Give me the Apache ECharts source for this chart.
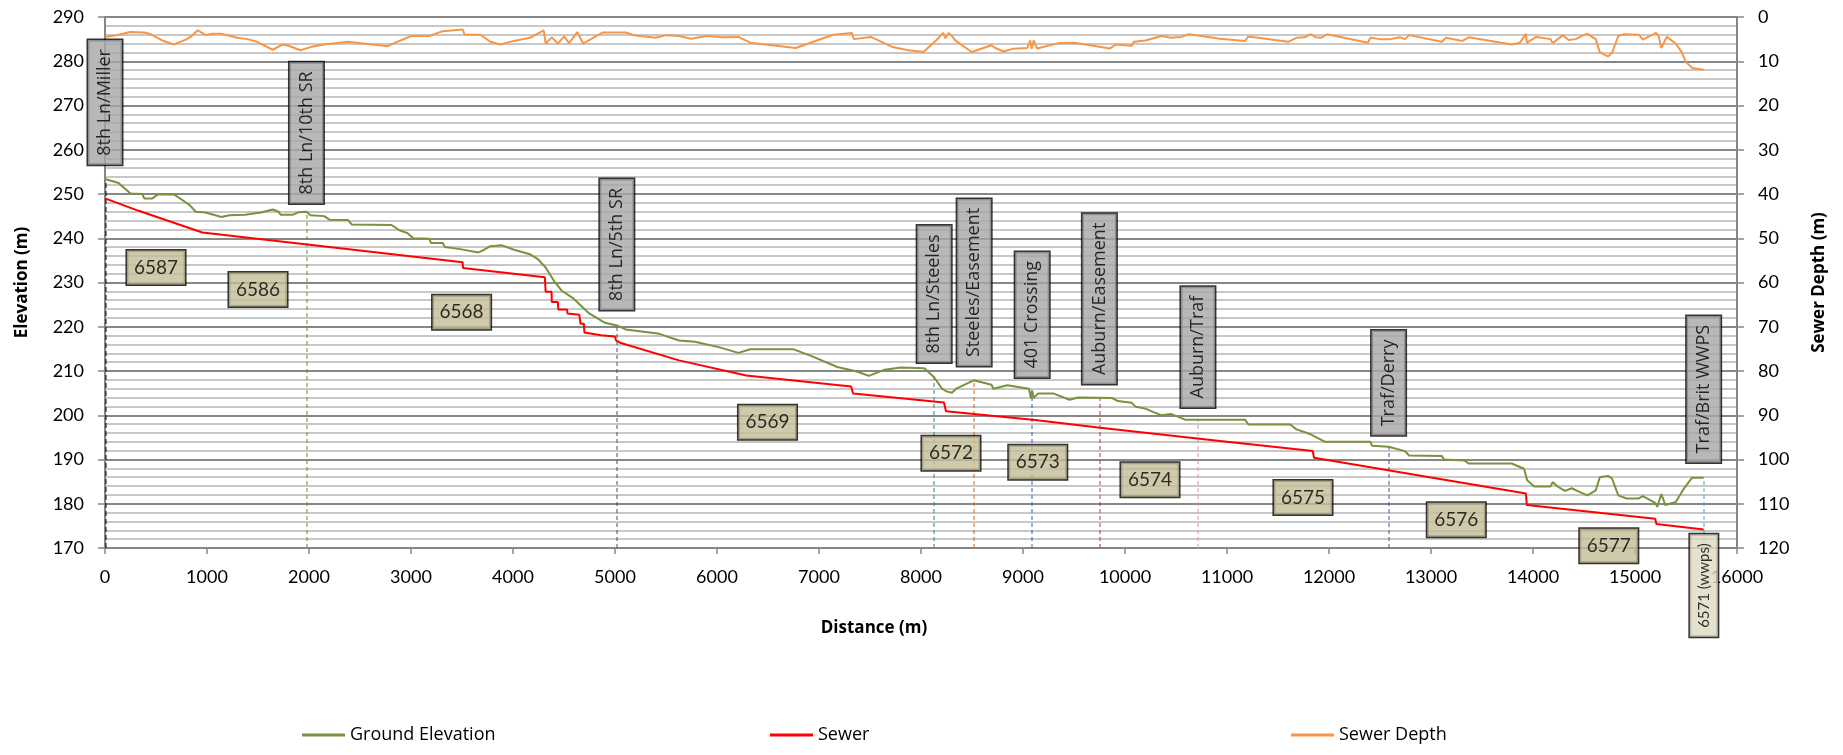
<!DOCTYPE html>
<html>
<head>
<meta charset="utf-8">
<script src="https://cdn.jsdelivr.net/npm/echarts@6/dist/echarts.min.js"></script>
<style>
html, body { margin: 0; padding: 0; background: #ffffff; }
#chart { width: 1843px; height: 755px; }
</style>
</head>
<body>
<div id="chart"></div>
<script>
// Ground profile along the trunk sewer route (distance in m, elevation in m)
const groundDist = [0, 10, 133, 250, 366, 385, 463, 521, 676, 754, 830, 890, 986, 1064, 1141, 1219, 1374, 1529, 1645, 1700, 1723, 1839, 1900, 1975, 2014, 2149, 2200, 2382, 2420, 2809, 2886, 2964, 3022, 3177, 3197, 3313, 3332, 3468, 3662, 3701, 3778, 3894, 4010, 4165, 4243, 4320, 4398, 4475, 4592, 4747, 4902, 5018, 5105, 5240, 5435, 5628, 5783, 6016, 6210, 6326, 6481, 6753, 6946, 7179, 7373, 7489, 7644, 7799, 8032, 8129, 8206, 8250, 8303, 8345, 8517, 8691, 8710, 8846, 9059, 9078, 9090, 9105, 9146, 9301, 9456, 9543, 9873, 9931, 10066, 10106, 10200, 10280, 10357, 10450, 10590, 10931, 11177, 11210, 11620, 11681, 11821, 11962, 12404, 12423, 12584, 12745, 12785, 13107, 13127, 13328, 13369, 13791, 13912, 13943, 14012, 14172, 14193, 14240, 14314, 14380, 14454, 14534, 14615, 14655, 14735, 14775, 14836, 14917, 15037, 15077, 15198, 15218, 15258, 15298, 15399, 15479, 15560, 15673];
const groundElev = [253.4, 253.3, 252.5, 250.1, 250.0, 249.0, 249.0, 249.9, 249.9, 248.7, 247.5, 246.0, 245.8, 245.3, 244.8, 245.2, 245.3, 245.8, 246.5, 246.0, 245.3, 245.3, 245.9, 246.0, 245.2, 245.0, 244.2, 244.1, 243.1, 243.0, 241.8, 241.2, 240.0, 239.9, 238.9, 238.9, 238.0, 237.6, 236.8, 237.2, 238.2, 238.4, 237.4, 236.4, 235.3, 233.4, 230.5, 228.2, 226.4, 223.0, 220.9, 220.3, 219.4, 219.0, 218.4, 216.9, 216.6, 215.4, 214.1, 214.9, 214.9, 214.9, 213.2, 210.9, 209.9, 208.9, 210.3, 210.8, 210.6, 208.6, 206.0, 205.4, 205.1, 206.0, 207.9, 206.9, 206.0, 206.8, 206.0, 203.8, 205.5, 203.9, 204.9, 204.9, 203.5, 204.0, 203.9, 203.2, 202.8, 201.9, 201.5, 200.7, 200.0, 200.3, 199.0, 199.0, 199.0, 197.9, 197.9, 196.8, 195.7, 194.0, 194.0, 193.1, 192.9, 191.9, 190.9, 190.8, 190.0, 189.8, 189.1, 189.1, 187.9, 185.3, 183.9, 183.9, 184.9, 183.9, 182.9, 183.5, 182.7, 181.9, 183.0, 186.0, 186.3, 185.7, 181.9, 181.2, 181.2, 181.7, 180.2, 179.3, 182.2, 179.7, 180.4, 183.4, 185.9, 185.9];

// Sewer invert profile (distance in m, elevation in m)
const sewerDist = [0, 10, 330, 955, 960, 3506, 3510, 4312, 4320, 4378, 4380, 4440, 4444, 4530, 4534, 4650, 4662, 4695, 4700, 4863, 4999, 5010, 5049, 5628, 6287, 7315, 7334, 8225, 8245, 9118, 9757, 10931, 11841, 11853, 13931, 13939, 15198, 15210, 15673];
const sewerElev = [249.0, 248.7, 246.2, 241.3, 240.9, 234.6, 233.3, 231.2, 227.9, 227.9, 225.6, 225.6, 223.9, 223.9, 223.0, 222.7, 220.7, 220.7, 218.7, 218.1, 217.8, 216.9, 216.4, 212.4, 209.0, 206.5, 204.9, 202.9, 200.9, 198.9, 197.2, 194.2, 191.9, 190.4, 182.3, 179.7, 176.6, 175.4, 174.2];

// Depth of the sewer below ground (distance in m, depth in m)
const depthDist = [0, 100, 250, 387, 450, 560, 676, 792, 850, 909, 986, 1050, 1141, 1296, 1400, 1490, 1645, 1742, 1800, 1917, 2014, 2149, 2382, 2770, 2847, 3002, 3177, 3313, 3506, 3526, 3681, 3778, 3875, 4010, 4165, 4301, 4320, 4380, 4440, 4500, 4550, 4630, 4688, 4780, 4882, 5105, 5200, 5396, 5500, 5627, 5745, 5900, 6050, 6209, 6326, 6771, 7140, 7322, 7342, 7509, 7722, 7876, 8024, 8148, 8218, 8240, 8270, 8295, 8342, 8497, 8691, 8720, 8807, 8900, 9041, 9071, 9085, 9105, 9138, 9350, 9505, 9853, 9912, 10067, 10086, 10200, 10358, 10450, 10550, 10629, 10931, 11177, 11210, 11600, 11681, 11760, 11821, 11870, 11922, 11982, 12383, 12404, 12500, 12600, 12700, 12745, 12785, 13107, 13147, 13308, 13370, 13791, 13872, 13931, 13940, 14032, 14172, 14193, 14293, 14350, 14420, 14494, 14534, 14615, 14655, 14735, 14775, 14836, 14896, 15037, 15077, 15206, 15230, 15258, 15311, 15399, 15459, 15499, 15560, 15673];
const depthVal = [4.5, 4.2, 3.4, 3.5, 3.9, 5.3, 6.2, 5.1, 4.3, 3.0, 4.1, 3.8, 3.8, 4.7, 5.0, 5.6, 7.4, 6.2, 6.5, 7.5, 6.8, 6.2, 5.6, 6.6, 5.8, 4.3, 4.3, 3.2, 2.8, 4.0, 4.0, 5.6, 6.2, 5.4, 4.7, 3.0, 6.0, 4.6, 6.0, 4.4, 5.9, 3.4, 6.0, 4.8, 3.5, 3.5, 4.2, 4.7, 4.1, 4.3, 4.9, 4.3, 4.6, 4.5, 5.8, 7.0, 4.0, 3.6, 5.0, 4.5, 6.8, 7.5, 7.9, 5.3, 3.6, 4.8, 3.6, 4.1, 5.4, 7.9, 6.4, 6.9, 7.8, 7.2, 7.0, 5.3, 7.2, 5.3, 7.1, 5.9, 5.8, 7.1, 6.2, 6.5, 5.6, 5.3, 4.3, 4.7, 4.5, 3.9, 4.9, 5.4, 4.4, 5.6, 4.7, 4.6, 3.9, 4.6, 4.7, 3.9, 5.8, 4.7, 5.0, 5.0, 4.6, 5.0, 4.1, 5.6, 4.7, 5.4, 4.6, 6.2, 5.8, 3.8, 5.8, 4.5, 5.0, 5.9, 4.1, 5.2, 5.0, 4.1, 3.8, 5.0, 8.0, 8.9, 8.1, 4.3, 3.9, 4.0, 5.1, 3.6, 4.2, 7.0, 4.5, 6.0, 8.0, 10.2, 11.5, 11.9];

// Street / structure locations along the route
const siteNames = ['8th Ln/Miller', '8th Ln/10th SR', '8th Ln/5th SR', '8th Ln/Steeles', 'Steeles/Easement', '401 Crossing', 'Auburn/Easement', 'Auburn/Traf', 'Traf/Derry', 'Traf/Brit WWPS'];
const siteDist = [0, 1975, 5018, 8129, 8521, 9090, 9749, 10715, 12584, 15673];
const siteGround = [253.3, 246.0, 220.3, 208.8, 207.9, 206.0, 204.0, 199.0, 192.9, 185.9];
const siteTagElev = [270.7, 263.8, 238.6, 227.4, 230.0, 222.7, 226.3, 215.4, 207.3, 205.9];

// Sewer section identifiers
const sectionIds = ['6587', '6586', '6568', '6569', '6572', '6573', '6574', '6575', '6576', '6577'];
const sectionDist = [500, 1500, 3496, 6495, 8294, 9145, 10245, 11745, 13248, 14743];
const sectionElev = [233.4, 228.4, 223.3, 198.4, 191.4, 189.4, 185.4, 181.4, 176.4, 170.5];
const pumpStation = { name: '6571 (wwps)', dist: 15675, elev: 161.5 };

// Axis ranges
const elevMin = 170, elevMax = 290;
const depthMin = 0, depthMax = 120;
const distMin = 0, distMax = 16000;

const pairs = (xs, ys) => xs.map((x, i) => [x, ys[i]]);

const siteColors = ['#000000', '#6E8B30', '#5A4378', '#2A7E96', '#D9650B', '#2864B0', '#B03A36', '#E39491', '#63498F', '#3FA4C2'];
const GRID_MAJOR = '#878787';
const GRID_MINOR = '#C8C8C8';
const AXIS_GREY = '#868686';
const tickFont = { fontFamily: 'Lato', fontSize: 18, color: '#000000' };
const titleFont = { fontFamily: 'Open Sans', fontSize: 17, fontWeight: 'bold', color: '#000000' };

const chart = echarts.init(document.getElementById('chart'), null, { renderer: 'canvas' });

const siteLines = siteDist.map((d, i) => ({
  coords: [[d, elevMin], [d, siteGround[i]]],
  lineStyle: { color: siteColors[i], width: i === 0 ? 3 : 2, type: i === 0 ? [5, 3] : [4, 3] }
}));

const legendCommon = {
  icon: 'rect', itemWidth: 43, itemHeight: 3, selectedMode: false, padding: 0,
  textStyle: { fontFamily: 'Open Sans', fontSize: 18, color: '#000000' }
};

chart.setOption({
  animation: false,
  backgroundColor: '#ffffff',
  grid: { left: 105, right: 106, top: 17, bottom: 207 },
  legend: [
    Object.assign({ data: ['Ground Elevation'], left: 302, top: 726 }, legendCommon),
    Object.assign({ data: ['Sewer'], left: 770, top: 726 }, legendCommon),
    Object.assign({ data: ['Sewer Depth'], left: 1291, top: 726 }, legendCommon)
  ],
  xAxis: {
    type: 'value', min: distMin, max: distMax, interval: 1000,
    name: 'Distance (m)', nameLocation: 'middle', nameGap: 72,
    nameTextStyle: Object.assign({ padding: [0, 94, 0, 0] }, titleFont),
    axisLine: { show: true, onZero: false, lineStyle: { color: AXIS_GREY, width: 2 } },
    axisTick: { show: true, length: 6, lineStyle: { color: AXIS_GREY, width: 1.5 } },
    axisLabel: Object.assign({ margin: 20, formatter: v => String(v) }, tickFont),
    splitLine: { show: false }
  },
  yAxis: [
    {
      type: 'value', min: elevMin, max: elevMax, interval: 10, position: 'left',
      name: 'Elevation (m)', nameLocation: 'middle', nameGap: 74, nameRotate: 90,
      nameTextStyle: titleFont,
      axisLine: { show: true, lineStyle: { color: AXIS_GREY, width: 2 } },
      axisTick: { show: true, length: 7, lineStyle: { color: AXIS_GREY, width: 1.5 } },
      axisLabel: Object.assign({ margin: 21 }, tickFont),
      splitLine: { show: true, lineStyle: { color: GRID_MAJOR, width: 2 } },
      minorTick: { show: false, splitNumber: 5 },
      minorSplitLine: { show: true, lineStyle: { color: GRID_MINOR, width: 2 } }
    },
    {
      type: 'value', min: depthMin, max: depthMax, interval: 10, position: 'right', inverse: true,
      name: 'Sewer Depth (m)', nameLocation: 'middle', nameGap: 74, nameRotate: 90,
      nameTextStyle: titleFont,
      axisLine: { show: true, lineStyle: { color: AXIS_GREY, width: 2 } },
      axisTick: { show: true, length: 7, lineStyle: { color: AXIS_GREY, width: 1.5 } },
      axisLabel: Object.assign({ margin: 21 }, tickFont),
      splitLine: { show: false }
    }
  ],
  series: [
    {
      name: 'Ground Elevation', type: 'line', yAxisIndex: 0, data: pairs(groundDist, groundElev),
      showSymbol: false, color: '#77933C', lineStyle: { color: '#77933C', width: 2 }, z: 3
    },
    {
      name: 'Sewer', type: 'line', yAxisIndex: 0, data: pairs(sewerDist, sewerElev),
      showSymbol: false, color: '#FF0000', lineStyle: { color: '#FF0000', width: 2 }, z: 3
    },
    {
      name: 'Sewer Depth', type: 'line', yAxisIndex: 1, data: pairs(depthDist, depthVal),
      showSymbol: false, color: '#F79646', lineStyle: { color: '#F79646', width: 2 }, z: 3
    },
    {
      type: 'lines', coordinateSystem: 'cartesian2d', xAxisIndex: 0, yAxisIndex: 0,
      data: siteLines, z: 2, silent: true
    },
    {
      type: 'scatter', yAxisIndex: 0, symbolSize: 0, z: 10, silent: true,
      data: siteNames.map((n, i) => ({ name: n, value: [siteDist[i], siteTagElev[i]] })),
      label: {
        show: true, position: 'inside', rotate: 90, formatter: p => p.name,
        fontFamily: 'Open Sans', fontSize: 18, lineHeight: 22, color: '#000000',
        backgroundColor: '#A6A6A6', borderColor: '#000000', borderWidth: 1.5, padding: [6, 9]
      }
    },
    {
      type: 'scatter', yAxisIndex: 0, symbolSize: 0, z: 10, silent: true,
      data: sectionIds.map((n, i) => ({ name: n, value: [sectionDist[i], sectionElev[i]] })),
      label: {
        show: true, position: 'inside', formatter: p => p.name,
        fontFamily: 'Lato', fontSize: 19, lineHeight: 22, color: '#000000',
        backgroundColor: '#C4BD97', borderColor: '#000000', borderWidth: 1.5, padding: [6, 7]
      }
    },
    {
      type: 'scatter', yAxisIndex: 0, symbolSize: 0, z: 10, silent: true, clip: false,
      data: [{ name: pumpStation.name, value: [pumpStation.dist, pumpStation.elev] }],
      label: {
        show: true, position: 'inside', rotate: 90, formatter: p => p.name,
        fontFamily: 'Lato', fontSize: 15, lineHeight: 18, color: '#000000',
        backgroundColor: '#DDD9C3', borderColor: '#000000', borderWidth: 1.5, padding: [5, 9]
      }
    }
  ]
});
</script>
</body>
</html>
